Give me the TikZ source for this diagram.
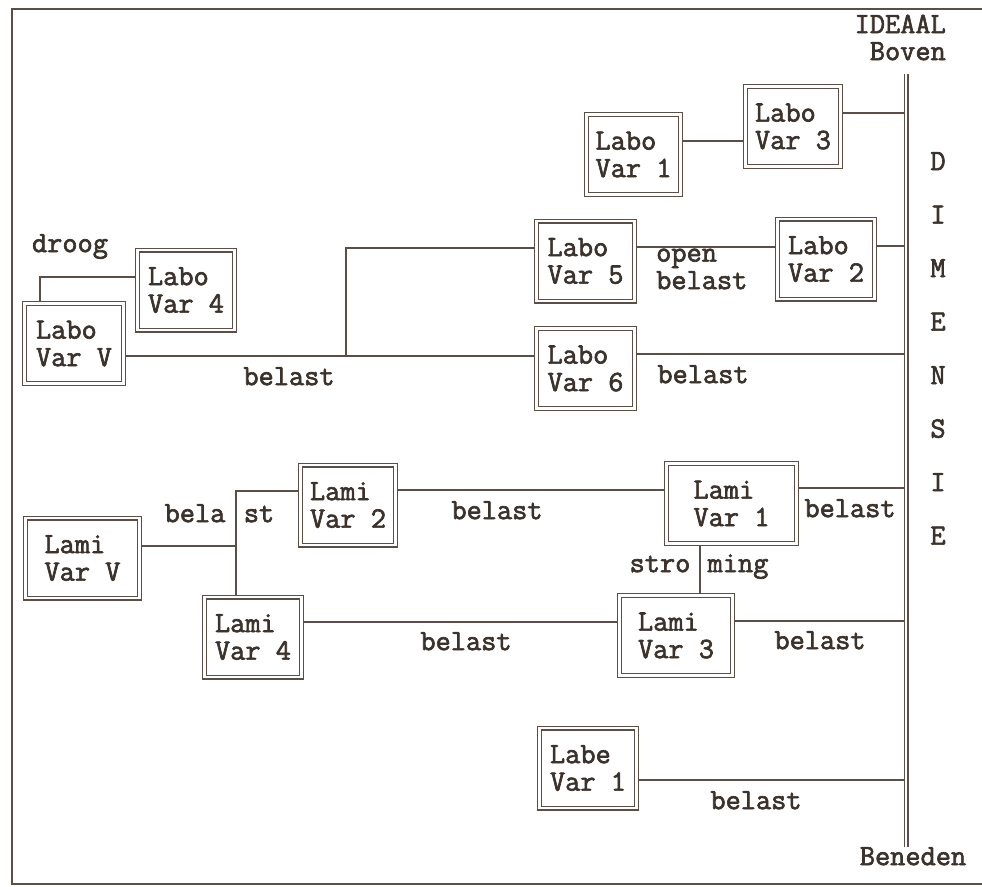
\documentclass[tikz,border=0pt]{standalone}
\usepackage{fontspec}
\newfontfamily\courier{Latin Modern Mono}[AutoFakeBold=2.2]
\usetikzlibrary{backgrounds}
\definecolor{ink}{RGB}{92,78,70}
\definecolor{letter}{RGB}{60,50,44}
\tikzset{
  var/.style={draw=ink, double, double distance=2.2pt, line width=1.4pt, align=left,
    inner sep=0pt, text=letter, minimum width=#1, minimum height=80pt},
  var/.default=97pt,
  lbl/.style={text=letter, inner sep=0pt, text height=0.62em, text depth=0.2em},
  link/.style={draw=ink, line width=1.6pt},
  axis/.style={draw=ink, double, double distance=2.4pt, line width=1.3pt}
}
\begin{document}
\begin{tikzpicture}[x=1pt, y=-1pt,
  every node/.style={font=\courier\fontsize{29.5}{27.5}\selectfont\bfseries}]
  \useasboundingbox (0,0) rectangle (982,886);
  \draw[ink, line width=1.5pt] (982,9) -| (12,884) -- (982,884);

  \node[var=95pt] (lb3) at (793,126.5) {Labo\\Var 3};
  \node[var=94pt] (lb1) at (633.5,154.5) {Labo\\Var 1};
  \node[var] (lb2) at (826,259) {Labo\\Var 2};
  \node[var=98pt] (lb5) at (585.5,261) {Labo\\Var 5};
  \node[var=98pt] (lb6) at (585.5,368.5) {Labo\\Var 6};
  \node[var=99pt] (lbV) at (74,343.5) {Labo\\Var V};
  \node[var] (lb4) at (186,290) {Labo\\Var 4};
  \node[var=114pt] (lmV) at (82.5,558) {Lami\\Var V};
  \node[var=95pt] (lm2) at (348,505) {Lami\\Var 2};
  \node[var] (lm4) at (253,637) {Lami\\Var 4};
  \node[var=130pt] (lm1) at (731.5,503.5) {Lami\\Var 1};
  \node[var=113pt] (lm3) at (676,635.5) {Lami\\Var 3};
  \node[var] (le1) at (588,768) {Labe\\Var 1};

  \coordinate (top) at (906,74);
  \coordinate (bot) at (906,847);
  \coordinate (split) at (346,356);
  \coordinate (jn) at (236,546);

  \begin{scope}[on background layer]
    \draw[link] (lb1.east |- 0,141) -- (lb3.west |- 0,141);
    \draw[link] (lb3.east |- 0,113) -- (top |- 0,113);
    \draw[link] (lb5.east |- 0,247) -- (lb2.west |- 0,247);
    \draw[link] (lb2.east |- 0,246) -- (top |- 0,246);
    \draw[link] (lbV.east |- split) -- (lb6.west |- split);
    \draw[link] (split) |- (lb5.west |- 0,248);
    \draw[link] (lb6.east |- 0,354) -- (top |- 0,354);
    \draw[link] (lb4.west |- 0,277) -| (lbV.north -| 40,0);
    \draw[link] (lmV.east |- jn) -- (jn);
    \draw[link] (lm2.west |- 0,491) -| (lm4.north -| jn);
    \draw[link] (lm2.east |- 0,490) -- (lm1.west |- 0,490);
    \draw[link] (lm1.east |- 0,488) -- (top |- 0,488);
    \draw[link] (lm1.south -| 700,0) -- (lm3.north -| 700,0);
    \draw[link] (lm4.east |- 0,622) -- (lm3.west |- 0,622);
    \draw[link] (lm3.east |- 0,621) -- (top |- 0,621);
    \draw[link] (le1.east |- 0,780) -- (top |- 0,780);
  \end{scope}
  \draw[axis] (top) -- (bot);

  \node[lbl] (l1) at (70,250) {droog};
  \node[lbl] (l2) at (289,383) {belast};
  \node[lbl, align=left, anchor=west] (l3) at (656,287) {open\\belast};
  \node[lbl] (l4) at (703,381) {belast};
  \node[lbl] (l5) at (195,520) {bela};
  \node[lbl] (l6) at (259,520) {st};
  \node[lbl] (l7) at (497,517) {belast};
  \node[lbl] (l8) at (850,515) {belast};
  \node[lbl] (l9) at (660,570) {stro};
  \node[lbl] (l10) at (738,570) {ming};
  \node[lbl] (l11) at (820,647) {belast};
  \node[lbl] (l12) at (466,648) {belast};
  \node[lbl] (l13) at (756,807) {belast};
  \node[lbl, anchor=east] (ideaal) at (946,31) {IDEAAL};
  \node[lbl, anchor=east] (boven) at (946,58) {Boven};
  \node[lbl] (beneden) at (913,863) {Beneden};
  \foreach \ch [count=\i from 0] in {D,I,M,E,N,S,I,E}
    \node[lbl] (d\i) at (938,168+53.5*\i) {\ch};
\end{tikzpicture}
\end{document}
